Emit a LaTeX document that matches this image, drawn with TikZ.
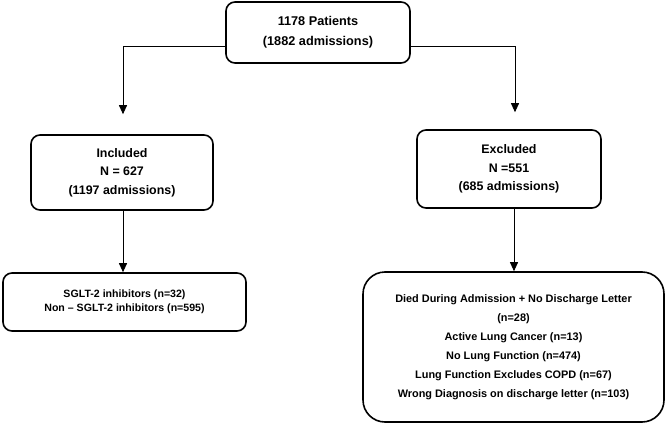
\documentclass[tikz,border=0pt]{standalone}
\usepackage{fontspec}
\setmainfont{Liberation Sans}
\usetikzlibrary{arrows.meta, positioning}

\begin{document}
\begin{tikzpicture}[x=1pt, y=-1pt,
      box/.style={rectangle, draw=black, line width=1.6pt, rounded corners=9pt,
                  align=center, font=\bfseries\fontsize{12.4}{18.5}\selectfont, inner sep=2pt},
      small/.style={box, font=\bfseries\fontsize{10.6}{14.2}\selectfont},
      list/.style={box, rounded corners=22pt, font=\bfseries\fontsize{10.9}{19}\selectfont},
      arr/.style={-{Triangle[length=9pt, width=8pt]}, black, line width=0.9pt},
    ]
    \useasboundingbox (0,0) rectangle (666,425);
    \node[box, minimum width=184pt, minimum height=61pt, font=\bfseries\fontsize{12.7}{20}\selectfont] (patients) at (318,32.5)
      {1178 Patients\\(1882 admissions)};
    \node[box, minimum width=182pt, minimum height=75pt] (included) at (122,172.5)
      {Included\\N = 627\\(1197 admissions)};
    \node[box, minimum width=184pt, minimum height=78pt] (excluded) at (509,169)
      {Excluded\\N =551\\(685 admissions)};
    \node[small, minimum width=243pt, minimum height=58pt] (sglt) at (124.5,302)
      {SGLT-2 inhibitors (n=32)\\Non -- SGLT-2 inhibitors (n=595)};
    \node[list, minimum width=301pt, minimum height=150pt] (reasons) at (513.5,347)
      {Died During Admission + No Discharge Letter\\(n=28)\\Active Lung Cancer (n=13)\\
       No Lung Function (n=474)\\Lung Function Excludes COPD (n=67)\\
       Wrong Diagnosis on discharge letter (n=103)};
    % split from the top box
    \draw[arr, shorten >=20pt] ([yshift=-13.5pt]patients.west) -| ([xshift=1pt]included.north);
    \draw[arr, shorten >=17pt] ([yshift=-13.5pt]patients.east) -| ([xshift=6pt]excluded.north);
    % down to the details
    \draw[arr] ([xshift=1pt]included.south) -- ([xshift=1pt]included.south |- sglt.north);
    \draw[arr] ([xshift=5pt]excluded.south) -- ([xshift=5pt]excluded.south |- reasons.north);
  \end{tikzpicture}
\end{document}
